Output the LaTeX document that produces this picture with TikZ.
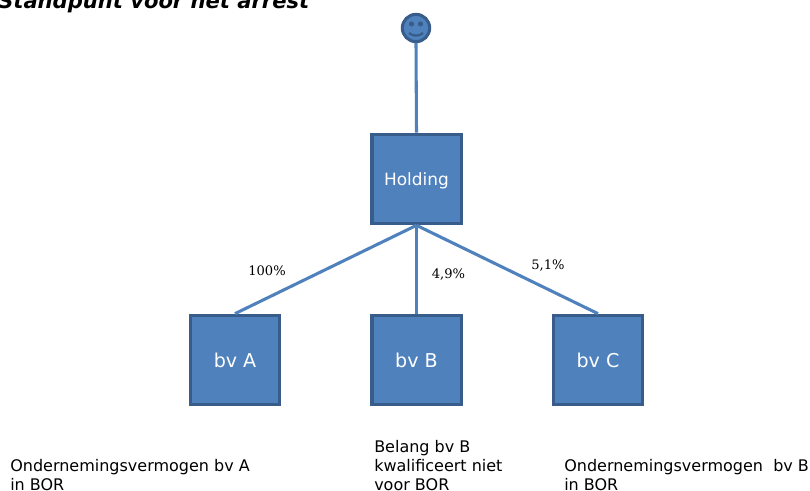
\documentclass[tikz,border=0pt]{standalone}
\usepackage{fontspec}
\setmainfont{DejaVu Sans}
\newfontfamily\pctfont{DejaVu Serif}
\definecolor{boxfill}{RGB}{79,129,189}
\definecolor{boxline}{RGB}{56,93,138}
\tikzset{
  company/.style={draw=boxline,fill=boxfill,line width=2.5pt,minimum size=67pt,inner sep=0pt,text=white,font=\fontsize{14.3}{16}\selectfont},
  holdingbox/.style={company,font=\fontsize{12.7}{14}\selectfont,text height=10.4pt,text depth=0pt},
  link/.style={draw=boxfill,line width=2.3pt},
  pct/.style={font=\pctfont\fontsize{9.8}{11}\selectfont,text=black,inner sep=0pt},
  note/.style={font=\fontsize{12}{14.2}\selectfont,align=left,anchor=north west,inner sep=0pt,text=black},
}
\begin{document}
\begin{tikzpicture}[x=0.75pt,y=-0.75pt]
\useasboundingbox (0,0) rectangle (810,491);
\clip (0,0) rectangle (810,491);
\fill[white] (0,0) rectangle (810,491);
\node[anchor=base west,inner sep=0pt,font=\bfseries\itshape\fontsize{15.8}{18}\selectfont] (title) at (-2,9) {Standpunt voor het arrest};
\node[circle,draw=boxline,fill=boxfill,line width=2.3pt,minimum size=20.5pt,inner sep=0pt] (face) at (416,28) {};
\fill[boxline] (411.5,24) circle (2.6) (420.5,24) circle (2.6);
\draw[boxline,line width=1.7pt] (409,33) .. controls (413,36.5) and (419,36.5) .. (423,33);
\node[holdingbox] (holding) at (416.5,179) {Holding};
\node[company] (a) at (235,360) {bv A};
\node[company] (b) at (416.5,360) {bv B};
\node[company] (c) at (598,360) {bv C};
\draw[link] (face.south) -- (holding.north);
\draw[link] (holding.south) -- (a.north);
\draw[link] (holding.south) -- (b.north);
\draw[link] (holding.south) -- (c.north);
\node[pct] (p1) at (267,270.5) {100\%};
\node[pct] (p2) at (448.5,274.5) {4,9\%};
\node[pct] (p3) at (548,265.5) {5,1\%};
\node[note] (n1) at (10,459) {Ondernemingsvermogen bv A\\in BOR};
\node[note] (n2) at (374,440) {Belang bv B\\kwalificeert niet\\voor BOR};
\node[note] (n3) at (564,459) {Ondernemingsvermogen\ \ bv B\\in BOR};
\end{tikzpicture}
\end{document}
